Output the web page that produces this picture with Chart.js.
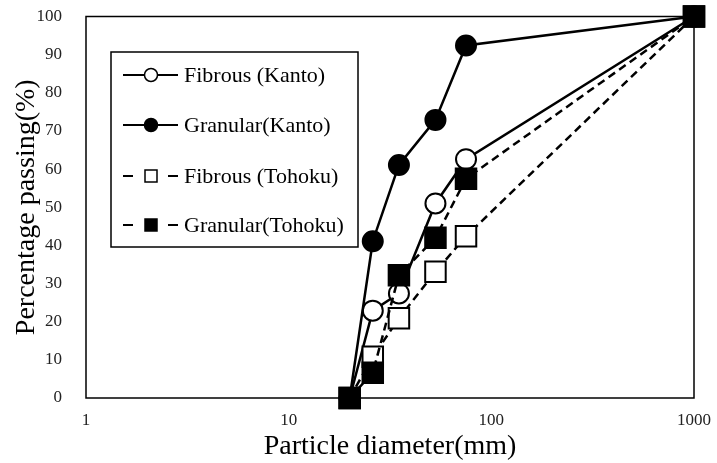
<!DOCTYPE html>
<html>
<head>
<meta charset="utf-8">
<script src="https://cdn.jsdelivr.net/npm/chart.js@4"></script>
<style>
  html, body { margin: 0; padding: 0; background: #fff; }
  #wrap { width: 717px; height: 463px; }
</style>
</head>
<body>
<div id="wrap"><canvas id="grading" width="717" height="463"></canvas></div>
<script>
// sieve sizes (mm) and percentage passing for each sample
const sizes = [20, 26, 35, 53, 75, 1000];
const fibrousKanto = [0, 22.9, 27.4, 51.0, 62.6, 100];
const granularKanto = [0, 41.1, 61.1, 72.9, 92.4, 100];
const fibrousTohoku = [0, 10.8, 20.9, 33.1, 42.4, 100];
const granularTohoku = [0, 6.6, 32.2, 42.0, 57.5, 100];
const seriesNames = ['Fibrous (Kanto)', 'Granular(Kanto)', 'Fibrous (Tohoku)', 'Granular(Tohoku)'];
const xTicks = [1, 10, 100, 1000];

const serif = "'Liberation Serif', 'Times New Roman', serif";

function pts(vals) {
  return sizes.map((x, i) => ({ x: x, y: vals[i] }));
}

function series(name, vals, shape, filled, dashed, order) {
  const isRect = shape === 'rect';
  return {
    label: name,
    data: pts(vals),
    borderColor: '#000',
    borderWidth: 2.5,
    borderDash: dashed ? [8, 5] : [],
    pointStyle: shape,
    pointRadius: isRect ? 14.5 : 10,
    pointBorderWidth: 2,
    pointBorderColor: '#000',
    pointBackgroundColor: filled ? '#000' : '#fff',
    tension: 0,
    clip: false,
    order: order
  };
}

// plot frame + legend box inside the plot
const frameAndLegend = {
  id: 'frameAndLegend',
  beforeDatasetsDraw(chart) {
    const { ctx, chartArea: a } = chart;
    ctx.save();
    ctx.strokeStyle = '#000';
    ctx.lineWidth = 1.5;
    ctx.strokeRect(a.left, a.top, a.right - a.left, a.bottom - a.top);
    ctx.restore();
  },
  afterDatasetsDraw(chart) {
    const ctx = chart.ctx;
    const box = { x: 111, y: 52, w: 247, h: 195 };
    const rows = [75, 125, 176, 225];
    ctx.save();
    ctx.fillStyle = '#fff';
    ctx.fillRect(box.x, box.y, box.w, box.h);
    ctx.strokeStyle = '#000';
    ctx.lineWidth = 1.5;
    ctx.strokeRect(box.x, box.y, box.w, box.h);

    chart.data.datasets.forEach((ds, i) => {
      const y = rows[i];
      const mx = 151;
      ctx.strokeStyle = '#000';
      ctx.lineWidth = 2;
      ctx.beginPath();
      if (ds.borderDash.length) {
        ctx.moveTo(123, y); ctx.lineTo(133, y);
        ctx.moveTo(168, y); ctx.lineTo(178, y);
      } else {
        ctx.moveTo(123, y); ctx.lineTo(178, y);
      }
      ctx.stroke();
      ctx.fillStyle = ds.pointBackgroundColor;
      ctx.lineWidth = 1.5;
      ctx.beginPath();
      if (ds.pointStyle === 'rect') {
        ctx.rect(mx - 6, y - 6, 12, 12);
      } else {
        ctx.arc(mx, y, 6.5, 0, Math.PI * 2);
      }
      ctx.fill();
      ctx.stroke();
      ctx.fillStyle = '#000';
      ctx.font = '22px ' + serif;
      ctx.textBaseline = 'middle';
      ctx.fillText(ds.label, 184, y + 1);
    });
    ctx.restore();
  }
};

new Chart(document.getElementById('grading'), {
  type: 'line',
  data: {
    datasets: [
      series(seriesNames[0], fibrousKanto, 'circle', false, false, 4),
      series(seriesNames[1], granularKanto, 'circle', true, false, 3),
      series(seriesNames[2], fibrousTohoku, 'rect', false, true, 2),
      series(seriesNames[3], granularTohoku, 'rect', true, true, 1)
    ]
  },
  options: {
    responsive: false,
    animation: false,
    layout: { padding: { top: 15, right: 23, bottom: 0, left: 0 } },
    plugins: { legend: { display: false }, tooltip: { enabled: false } },
    scales: {
      x: {
        type: 'logarithmic',
        min: 1,
        max: 1000,
        grid: { display: false, drawTicks: false },
        border: { display: false },
        afterBuildTicks: s => { s.ticks = xTicks.map(v => ({ value: v })); },
        afterFit: s => { s.height = 65; s.paddingLeft = 0; s.paddingRight = 0; },
        ticks: {
          padding: 12,
          color: '#222',
          font: { family: serif, size: 17 },
          maxRotation: 0,
          autoSkip: false,
          callback: v => String(v)
        },
        title: {
          display: true,
          text: 'Particle diameter(mm)',
          color: '#000',
          font: { family: serif, size: 28 },
          padding: { top: 0, bottom: 0 }
        }
      },
      y: {
        min: 0,
        max: 100,
        grid: { display: false, drawTicks: false },
        border: { display: false },
        afterFit: s => { s.width = 86; s.paddingTop = 0; s.paddingBottom = 0; },
        ticks: {
          stepSize: 10,
          padding: 24,
          color: '#222',
          font: { family: serif, size: 17 }
        },
        title: {
          display: true,
          text: 'Percentage passing(%)',
          color: '#000',
          font: { family: serif, size: 28 },
          padding: { top: 10, bottom: 0 }
        }
      }
    }
  },
  plugins: [frameAndLegend]
});
</script>
</body>
</html>
